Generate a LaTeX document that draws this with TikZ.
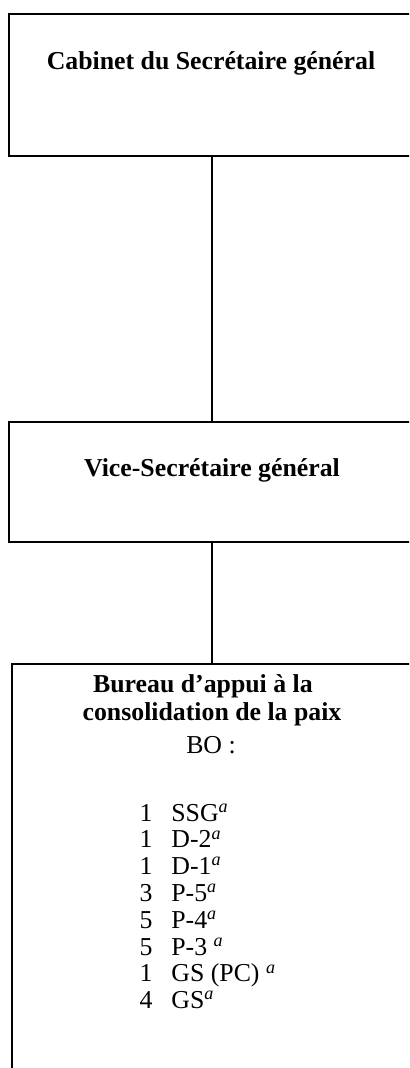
\documentclass[tikz,border=0pt]{standalone}
\usepackage{fontspec}
\setmainfont{Liberation Serif}
\begin{document}
\begin{tikzpicture}[x=0.5pt,y=-0.5pt,
  unitbox/.style={draw, line width=0.85pt, rectangle, anchor=north west,
    inner sep=0pt, minimum width=204pt},
  title/.style={anchor=base, inner sep=0pt, font=\fontsize{12.9}{15}\selectfont\bfseries},
  body/.style={anchor=base, inner sep=0pt, font=\fontsize{12.9}{15}\selectfont},
  count/.style={anchor=base east, inner sep=0pt, font=\fontsize{12.9}{15}\selectfont},
  grade/.style={anchor=base west, inner sep=0pt, font=\fontsize{12.9}{15}\selectfont},
  link/.style={line width=0.8pt}
]
\newcommand{\fn}{\textsuperscript{\textit{a}}}
\useasboundingbox (0,0) rectangle (409,1068);
\clip (0,0) rectangle (409,1068);
\fill[white] (0,0) rectangle (409,1068);

% organisational units
\node[unitbox, minimum height=71pt] (cab) at (8,13) {};
\node[unitbox, minimum height=60pt] (vsg) at (8,421) {};
\node[unitbox, minimum height=215pt] (pbso) at (11,663) {};

% unit titles
\node[title] (cabT) at (211,70) {Cabinet du Secrétaire général};
\node[title] (vsgT) at (212,476) {Vice-Secrétaire général};
\node[title] (pbsoT1) at (203,692) {Bureau d’appui à la};
\node[title] (pbsoT2) at (212,720) {consolidation de la paix};

% staffing table
\node[body] (bo) at (211,753) {BO :};
\foreach \n/\g [count=\i from 0] in {1/SSG\fn, 1/D-2\fn, 1/D-1\fn, 3/P-5\fn,
    5/P-4\fn, 5/P-3 \fn, 1/GS (PC) \fn, 4/GS\fn}{
  \node[count] (n\i) at (153,821+26.8*\i) {\n};
  \node[grade] (g\i) at (171,821+26.8*\i) {\g};
}

% reporting lines
\coordinate (spine) at (212,0);
\draw[link] (cab.south -| spine) -- (vsg.north -| spine);
\draw[link] (vsg.south -| spine) -- (pbso.north -| spine);
\end{tikzpicture}
\end{document}
